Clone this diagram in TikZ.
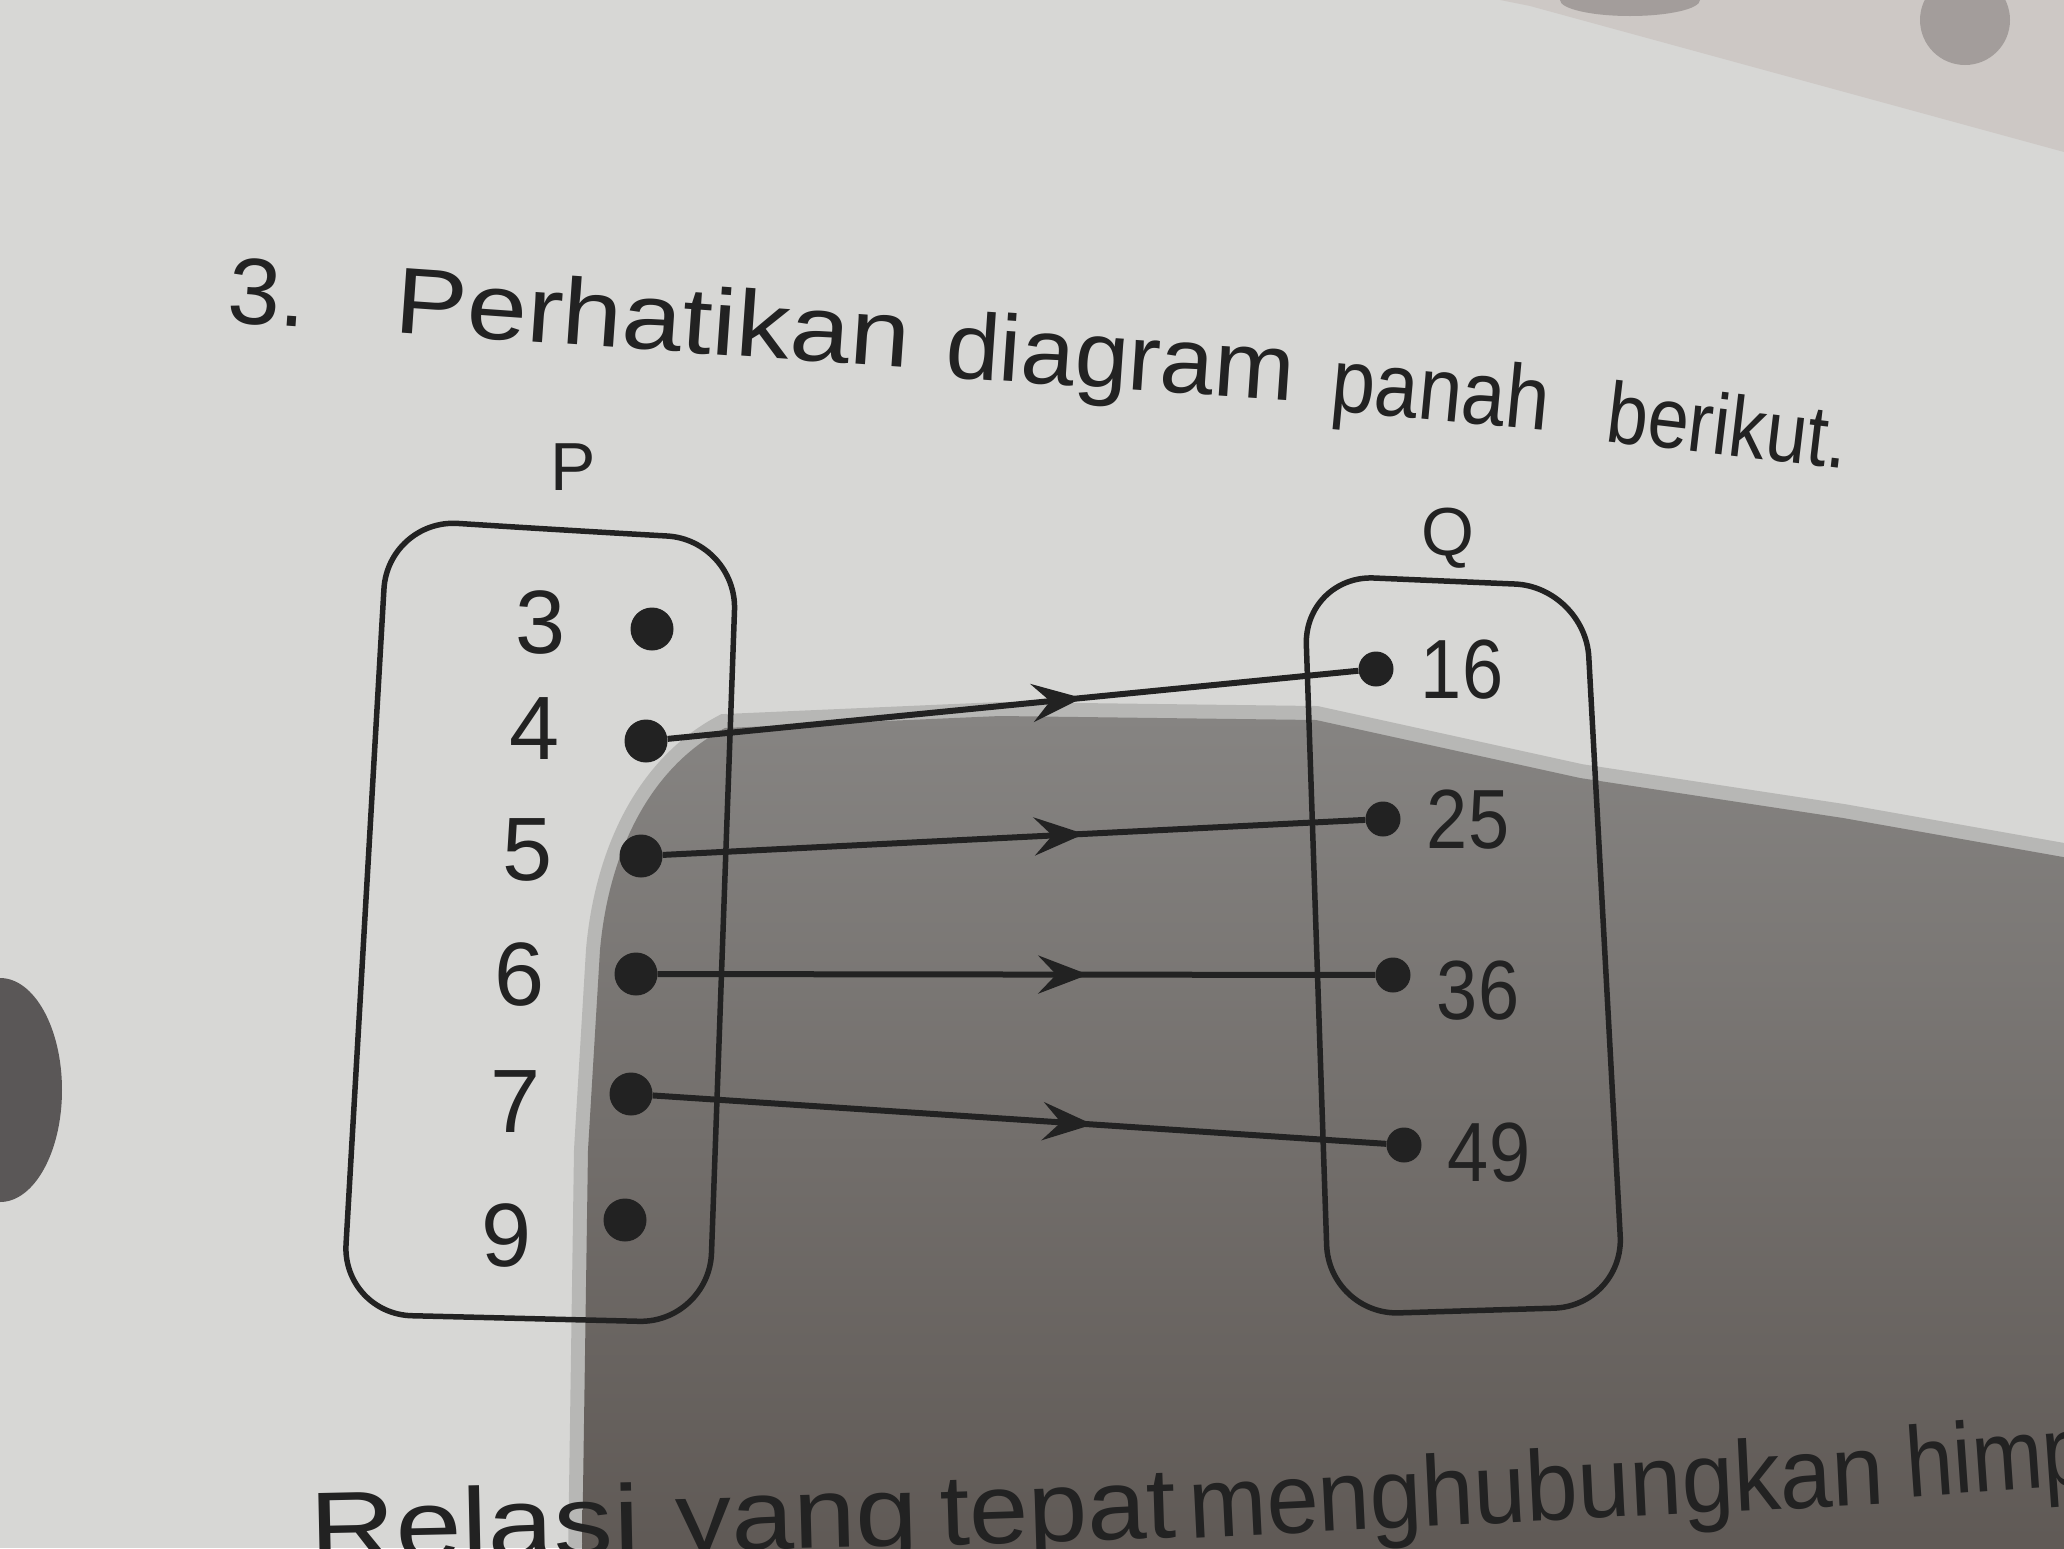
\documentclass[tikz,border=0pt]{standalone}
\usepackage{fontspec}
\setmainfont{Liberation Sans}
\usepackage{graphicx}
\usetikzlibrary{arrows.meta,decorations.markings}
\definecolor{paper}{HTML}{D7D7D5}
\definecolor{ink}{HTML}{222222}
\definecolor{shadowtop}{HTML}{868482}
\definecolor{shadowbot}{HTML}{5F5955}
\definecolor{shadowedge}{HTML}{A3A2A0}
\definecolor{blob}{HTML}{5A5757}
\definecolor{fabric}{HTML}{CDC8C5}
\definecolor{fabricdark}{HTML}{7A7472}
\begin{document}
\begin{tikzpicture}[x=1pt,y=-1pt,
  setbox/.style={draw=ink, line width=5.5pt, rounded corners=70pt},
  pdot/.style={circle, fill=ink, inner sep=0pt, minimum size=43pt},
  qdot/.style={circle, fill=ink, inner sep=0pt, minimum size=35pt},
  plabel/.style={font=\fontsize{90}{90}\selectfont, text=ink, inner sep=0pt},
  qlabel/.style={font=\fontsize{84}{84}\selectfont, text=ink, inner sep=0pt},
  setname/.style={font=\fontsize{68}{68}\selectfont, text=ink, inner sep=0pt},
  titleword/.style={text=ink, inner sep=0pt, anchor=base west},
  bottomword/.style={font=\fontsize{100}{100}\selectfont, text=ink, inner sep=0pt, anchor=base west},
  maps/.style={draw=ink, line width=6pt, postaction={decorate},
    decoration={markings, mark=at position 0.6 with {\arrow{Stealth[length=50pt,width=38pt,inset=18pt]}}}},
  ]
\useasboundingbox (0,0) rectangle (2064,1548);
\clip (0,0) rectangle (2064,1548);
% paper and photo background
\fill[paper] (0,0) rectangle (2064,1548);
\fill[fabric] (1500,0) -- (2064,0) -- (2064,152) -- (1530,6) -- cycle;
\begin{scope}
  \clip (1500,0) -- (2064,0) -- (2064,152) -- (1530,6) -- cycle;
  \fill[fabricdark, opacity=0.5] (1630,0) ellipse [x radius=70pt, y radius=16pt];
  \fill[fabricdark, opacity=0.5] (1965,20) ellipse [x radius=45pt, y radius=45pt];
\end{scope}
\fill[blob] (0,1090) ellipse [x radius=62pt, y radius=112pt];
% shadow
\draw[shadowedge, opacity=0.6, line width=28pt] (582,1560) -- (588,1150) -- (600,950) .. controls (608,860) and (645,770) .. (725,728) -- (1000,716) -- (1316,720) -- (1580,778) -- (1843,818) -- (2080,860);
\shade[top color=shadowtop, bottom color=shadowbot] (582,1560) -- (588,1150) -- (600,950) .. controls (608,860) and (645,770) .. (725,728) -- (1000,716) -- (1316,720) -- (1580,778) -- (1843,818) -- (2080,860) -- (2080,1560) -- cycle;
% title (each word follows the curved, foreshortened page)
\node[titleword, font=\fontsize{94}{94}\selectfont, rotate=-4] (t0) at (226,322) {3.};
\node[titleword, font=\fontsize{94}{94}\selectfont, rotate=-4] (t1) at (393,332) {\scalebox{1.15}[1]{Perhatikan}};
\node[titleword, font=\fontsize{94}{94}\selectfont, rotate=-3.9] (t2) at (944,377) {\scalebox{1.03}[1]{diagram}};
\node[titleword, font=\fontsize{90}{90}\selectfont, rotate=-5.4] (t3) at (1329,410) {\scalebox{0.875}[1]{panah}};
\node[titleword, font=\fontsize{86}{86}\selectfont, rotate=-6.7] (t4) at (1604,441) {\scalebox{0.86}[1]{berikut.}};
% set names
\node[setname] (Pname) at (573,467) {P};
\node[setname] (Qname) at (1448,538) {Q};
% set boxes
\draw[setbox] (562,530) -- (737,540) -- (709,1323) -- (342,1314) -- (388,519) -- cycle;
\draw[setbox] (1444,581) -- (1585,587) -- (1624,1306) -- (1329,1315) -- (1304,575) -- cycle;
% elements of P
\node[plabel] (l3) at (541,623) {3};
\node[plabel] (l4) at (535,729) {4};
\node[plabel] (l5) at (528,850) {5};
\node[plabel] (l6) at (520,975) {6};
\node[plabel] (l7) at (516,1102) {7};
\node[plabel] (l9) at (507,1236) {9};
\node[pdot] (p3) at (652,629) {};
\node[pdot] (p4) at (646,741) {};
\node[pdot] (p5) at (641,856) {};
\node[pdot] (p6) at (636,974) {};
\node[pdot] (p7) at (631,1094) {};
\node[pdot] (p9) at (625,1220) {};
% elements of Q
\node[qdot] (q16) at (1376,669) {};
\node[qdot] (q25) at (1383,819) {};
\node[qdot] (q36) at (1393,975) {};
\node[qdot] (q49) at (1404,1145) {};
\node[qlabel] (m16) at (1462,670) {\scalebox{0.88}[1]{16}};
\node[qlabel] (m25) at (1468,820) {\scalebox{0.88}[1]{25}};
\node[qlabel] (m36) at (1478,991) {\scalebox{0.88}[1]{36}};
\node[qlabel] (m49) at (1489,1153) {\scalebox{0.88}[1]{49}};
% mapping arrows
\draw[maps] (p4) -- (q16);
\draw[maps] (p5) -- (q25);
\draw[maps] (p6) -- (q36);
\draw[maps] (p7) -- (q49);
% bottom text (cut by the page edge)
\node[bottomword, rotate=1.2] (b1) at (310,1562) {\scalebox{1.19}[1]{Relasi}};
\node[bottomword, rotate=1.5] (b2) at (676,1552) {\scalebox{1.12}[1]{yang}};
\node[bottomword, rotate=1.8] (b3) at (941,1545) {\scalebox{1.06}[1]{tepat}};
\node[bottomword, rotate=2.8] (b4) at (1190,1538) {\scalebox{0.935}[1]{menghubungkan}};
\node[bottomword, rotate=4] (b5) at (1908,1497) {\scalebox{0.85}[1]{himp}};
\end{tikzpicture}
\end{document}
